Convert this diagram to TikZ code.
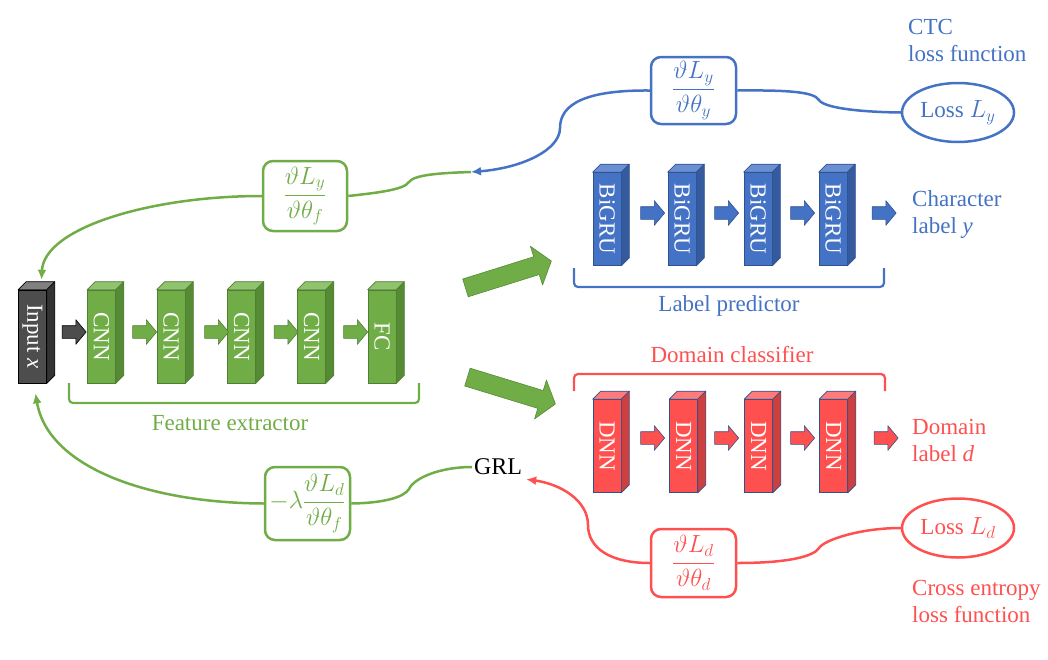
\documentclass[tikz,border=0pt]{standalone}
\usepackage{fontspec}
\setmainfont{Liberation Serif}
\usepackage{graphicx}
\usetikzlibrary{shapes.geometric,shapes.arrows,arrows.meta}
\definecolor{gfront}{HTML}{70AD47}
\definecolor{gtop}{HTML}{8FC36E}
\definecolor{gside}{HTML}{558B35}
\definecolor{gedge}{HTML}{507E32}
\definecolor{bfront}{HTML}{4472C4}
\definecolor{btop}{HTML}{6A8FD2}
\definecolor{bside}{HTML}{355A9E}
\definecolor{bedge}{HTML}{2F528F}
\definecolor{rfront}{HTML}{FF5050}
\definecolor{rtop}{HTML}{FF7A7A}
\definecolor{rside}{HTML}{CC4040}
\definecolor{redge}{HTML}{2F528F}
\definecolor{kfront}{HTML}{4D4D4D}
\definecolor{ktop}{HTML}{808080}
\definecolor{kside}{HTML}{333333}
\definecolor{kedge}{HTML}{000000}
\definecolor{cgreen}{HTML}{70AD47}
\definecolor{cblue}{HTML}{4472C4}
\definecolor{cred}{HTML}{FF5050}
\newcommand{\prismblock}[4]{%
  \node[prismface, fill=#3front, draw=#3edge] (#1) at (#2) {\rotatebox{-90}{#4}};
  \filldraw[fill=#3top, draw=#3edge, line width=0.6pt, line join=round] (#1.north west) -- ([shift={(8,-8)}]#1.north west) -- ([shift={(8,-8)}]#1.north east) -- (#1.north east) -- cycle;
  \filldraw[fill=#3side, draw=#3edge, line width=0.6pt, line join=round] (#1.north east) -- ([shift={(8,-8)}]#1.north east) -- ([shift={(8,-8)}]#1.south east) -- (#1.south east) -- cycle;
}
\begin{document}
\begin{tikzpicture}[x=1pt,y=-1pt, font=\fontsize{23}{27}\selectfont,
 prismface/.style={rectangle, minimum width=28pt, minimum height=93pt, inner sep=0pt, line width=0.6pt, text=white},
 smallarrow/.style={single arrow, inner xsep=0pt, inner ysep=6pt, single arrow head extend=6pt, minimum height=24pt, single arrow tip angle=100, line width=0.6pt, line join=round},
 bigarrow/.style={single arrow, inner xsep=0pt, inner ysep=9pt, single arrow head extend=11pt, minimum height=90pt, single arrow tip angle=105, fill=gfront, draw=gside, line width=0.6pt, line join=round},
 gradbox/.style={rectangle, rounded corners=10pt, line width=2.5pt, fill=white, inner sep=2pt},
 lossell/.style={ellipse, minimum width=112pt, minimum height=59pt, line width=2.5pt, inner sep=0pt},
 flow/.style={line width=2.5pt},
 bracket/.style={line width=2.2pt, rounded corners=4pt},
 tip/.style={-{Latex[length=10pt,width=9pt]}},
 caption/.style={inner sep=0pt, align=left, anchor=west}]
\useasboundingbox (0,0) rectangle (1048,659);

% ---------- feature extractor ----------
\prismblock{inp}{32.5,336.5}{k}{Input \textit{x}}
\prismblock{cnn1}{101.5,336.5}{g}{CNN}
\prismblock{cnn2}{171,336.5}{g}{CNN}
\prismblock{cnn3}{241.5,336.5}{g}{CNN}
\prismblock{cnn4}{311.5,336.5}{g}{CNN}
\prismblock{fc}{382,336.5}{g}{FC}
\node[smallarrow, fill=kfront, draw=black] (ga0) at (71.5,332) {};
\node[smallarrow, fill=gfront, draw=gedge] (ga1) at (142,332) {};
\node[smallarrow, fill=gfront, draw=gedge] (ga2) at (214,332) {};
\node[smallarrow, fill=gfront, draw=gedge] (ga3) at (283.5,332) {};
\node[smallarrow, fill=gfront, draw=gedge] (ga4) at (353,332) {};
\draw[bracket, cgreen] (69,383) -- (69,403) -- (419,403) -- (419,383);
\node[text=cgreen] (fe) at (230,423) {Feature extractor};

% ---------- big arrows ----------
\node[bigarrow, rotate=17.4] (bigup) at (505,275.5) {};
\node[bigarrow, rotate=-17, minimum height=92pt] (bigdown) at (508,389.5) {};

% ---------- label predictor ----------
\prismblock{gru1}{607,219}{b}{BiGRU}
\prismblock{gru2}{682,219}{b}{BiGRU}
\prismblock{gru3}{758,219}{b}{BiGRU}
\prismblock{gru4}{833,219}{b}{BiGRU}
\node[smallarrow, fill=bfront, draw=bedge] (ba1) at (650,213) {};
\node[smallarrow, fill=bfront, draw=bedge] (ba2) at (724,213) {};
\node[smallarrow, fill=bfront, draw=bedge] (ba3) at (800,213) {};
\node[smallarrow, fill=bfront, draw=bedge] (ba4) at (881.5,213) {};
\draw[bracket, cblue] (574,268) -- (574,287) -- (884,287) -- (884,268);
\node[text=cblue] (lp) at (729,306) {Label predictor};
\node[caption, text=cblue] (chl) at (912,214) {Character\\label \textit{y}};

% ---------- domain classifier ----------
\prismblock{dnn1}{607,446}{r}{DNN}
\prismblock{dnn2}{683.5,446}{r}{DNN}
\prismblock{dnn3}{758.5,446}{r}{DNN}
\prismblock{dnn4}{833.5,446}{r}{DNN}
\node[smallarrow, fill=rfront, draw=redge] (ra1) at (650,438) {};
\node[smallarrow, fill=rfront, draw=redge] (ra2) at (724,438) {};
\node[smallarrow, fill=rfront, draw=redge] (ra3) at (800,438) {};
\node[smallarrow, fill=rfront, draw=redge] (ra4) at (883.5,438) {};
\draw[bracket, cred] (574,391) -- (574,374) -- (885,374) -- (885,391);
\node[text=cred] (dc) at (732,355) {Domain classifier};
\node[caption, text=cred] (dml) at (912,440) {Domain\\label \textit{d}};

% ---------- gradient boxes and losses ----------
\node[gradbox, draw=cblue, text=cblue, minimum width=85pt, minimum height=67pt] (by) at (693.5,90.5) {$\displaystyle\frac{\vartheta L_y}{\vartheta\theta_y}$};
\node[lossell, draw=cblue, text=cblue] (ly) at (958,112.5) {Loss $L_y$};
\node[caption, text=cblue] (ctc) at (908,40) {CTC\\loss function};

\node[gradbox, draw=cgreen, text=cgreen, minimum width=84pt, minimum height=70pt] (bf) at (305,196) {$\displaystyle\frac{\vartheta L_y}{\vartheta\theta_f}$};
\node[gradbox, draw=cgreen, text=cgreen, minimum width=85pt, minimum height=73pt, inner sep=1pt] (bd) at (307.5,503.5) {$\displaystyle -\lambda\frac{\vartheta L_d}{\vartheta\theta_f}$};

\node[inner sep=2pt, font=\fontsize{24}{28}\selectfont] (grl) at (498,467) {GRL};

\node[gradbox, draw=cred, text=cred, minimum width=85pt, minimum height=68pt] (rd) at (693.5,563) {$\displaystyle\frac{\vartheta L_d}{\vartheta\theta_d}$};
\node[lossell, draw=cred, text=cred] (ld) at (958,528) {Loss $L_d$};
\node[caption, text=cred] (cel) at (912,601) {Cross entropy\\loss function};

% ---------- connectors ----------
\coordinate (j1) at (471,172);
\draw[flow, cblue, tip] (by.west) .. controls (588,90) and (560,103) .. (560,128) .. controls (560,150) and (522,168) .. (j1);
\draw[flow, cblue] (by.east) .. controls (790,90) and (814,92) .. (819,100) .. controls (824,108) and (860,112) .. (ly.west);
\draw[flow, cgreen] (j1) .. controls (438,173) and (414,175) .. (409,182) .. controls (404,190) and (375,193) .. (bf.east);
\draw[flow, cgreen, tip] (bf.west) .. controls (150,196) and (44,228) .. ([shift={(9,-10)}]inp.north);
\draw[flow, cgreen, tip] (bd.west) .. controls (150,503) and (48,468) .. ([shift={(3,10)}]inp.south);
\draw[flow, cgreen] (bd.east) .. controls (385,503) and (404,497) .. (409,489) .. controls (414,478) and (440,467) .. (grl.west);
\draw[flow, cred, tip] (rd.west) .. controls (610,563) and (588,548) .. (588,525) .. controls (588,500) and (560,484) .. ([shift={(2,2)}]grl.south east);
\draw[flow, cred] (rd.east) .. controls (790,563) and (814,556) .. (819,548) .. controls (824,540) and (860,528) .. (ld.west);
\end{tikzpicture}
\end{document}
